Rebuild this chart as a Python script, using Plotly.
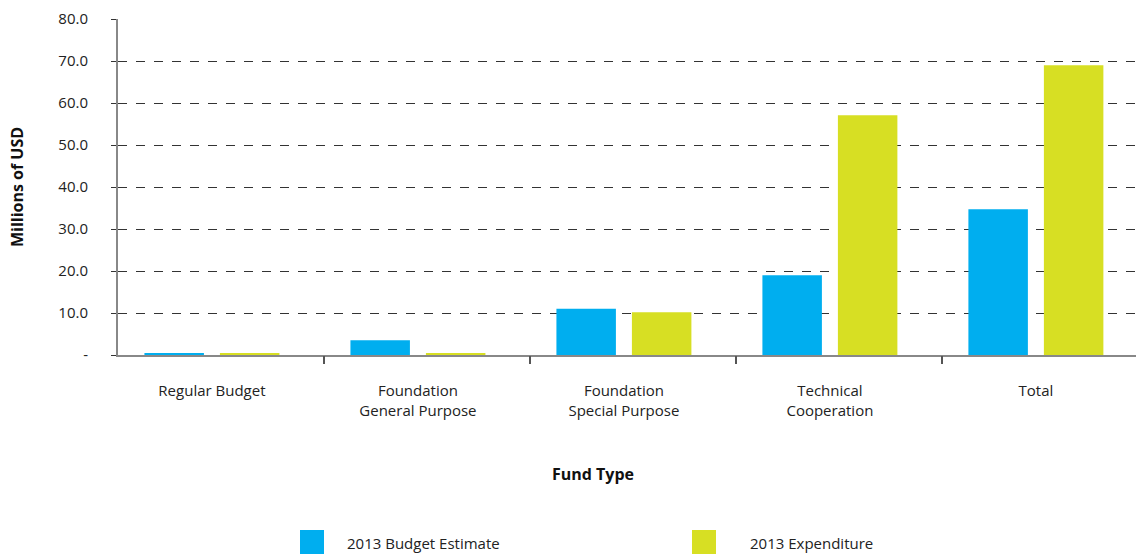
import plotly.graph_objects as go

# Fund types and 2013 amounts (millions of USD)
fund_types = ["Regular Budget", "Foundation<br>General Purpose", "Foundation<br>Special Purpose",
              "Technical<br>Cooperation", "Total"]
budget_estimate = [0.5, 3.5, 11.0, 19.0, 34.7]
expenditure = [0.5, 0.5, 10.2, 57.1, 69.0]

series_names = ["2013 Budget Estimate", "2013 Expenditure"]
series_colors = ["#00AEEF", "#D7DF23"]

y_ticks = [0, 10, 20, 30, 40, 50, 60, 70, 80]
y_tick_text = ["-" if v == 0 else f"{v:.1f}" for v in y_ticks]

FONT = "Open Sans"
x_pos = list(range(len(fund_types)))
x_range = [-0.456, 4.486]

fig = go.Figure()
for name, vals, col in zip(series_names, [budget_estimate, expenditure], series_colors):
    fig.add_trace(go.Bar(x=x_pos, y=vals, name=name, marker=dict(color=col, line_width=0),
                         showlegend=False, xaxis="x", yaxis="y"))

fig.update_layout(
    width=1136, height=556,
    margin=dict(l=118, r=0, t=19, b=201),
    paper_bgcolor="white", plot_bgcolor="white",
    barmode="group", bargap=0.267, bargroupgap=0.212,
    font=dict(family=FONT, size=15, color="#222"),
    xaxis=dict(range=x_range, tickvals=x_pos, ticktext=fund_types,
               ticks="", showgrid=False, zeroline=False,
               showline=True, linecolor="#888", linewidth=2,
               ticklabelstandoff=21),
    # secondary axis only carries the tick marks between fund types
    xaxis2=dict(range=x_range, overlaying="x", side="bottom", anchor="y",
                tickvals=[i + 0.545 for i in x_pos[:-1]], showticklabels=False,
                ticks="outside", ticklen=8, tickwidth=1.5, tickcolor="#555",
                showgrid=False, zeroline=False, showline=False),
    yaxis=dict(range=[0, 80], tickvals=y_ticks, ticktext=y_tick_text,
               showgrid=True, gridcolor="#333", griddash="dash", gridwidth=1,
               zeroline=False, showline=True, linecolor="#888", linewidth=2,
               ticks="outside", ticklen=5, tickcolor="#333", tickwidth=1,
               ticklabelstandoff=20,
               title=dict(text="<b>Millions of USD</b>", standoff=31, font=dict(size=16, color="#111"))),
)
fig.add_trace(go.Scatter(x=[None], y=[None], xaxis="x2", yaxis="y", showlegend=False))

# x-axis title, centred on the page rather than on the plot area
fig.add_annotation(xref="paper", yref="paper", x=(593 - 118) / 1018, y=(355 - 474) / 336,
                   text="<b>Fund Type</b>", showarrow=False, xanchor="center", yanchor="middle",
                   font=dict(size=16, color="#111"))

# legend: colour swatches with labels underneath the chart
legend_items = [(series_names[0], series_colors[0], 300, 345), (series_names[1], series_colors[1], 692, 748)]
for name, col, sx, tx in legend_items:
    fig.add_shape(type="rect", xref="paper", yref="paper",
                  x0=(sx - 118) / 1018, x1=(sx + 24 - 118) / 1018,
                  y0=(355 - 554) / 336, y1=(355 - 530) / 336,
                  fillcolor=col, line_width=0)
    fig.add_annotation(xref="paper", yref="paper", x=(tx - 118) / 1018, y=(355 - 543) / 336,
                       text=name, showarrow=False, xanchor="left", yanchor="middle",
                       font=dict(size=15, color="#222"))

fig.write_html("out.html")
